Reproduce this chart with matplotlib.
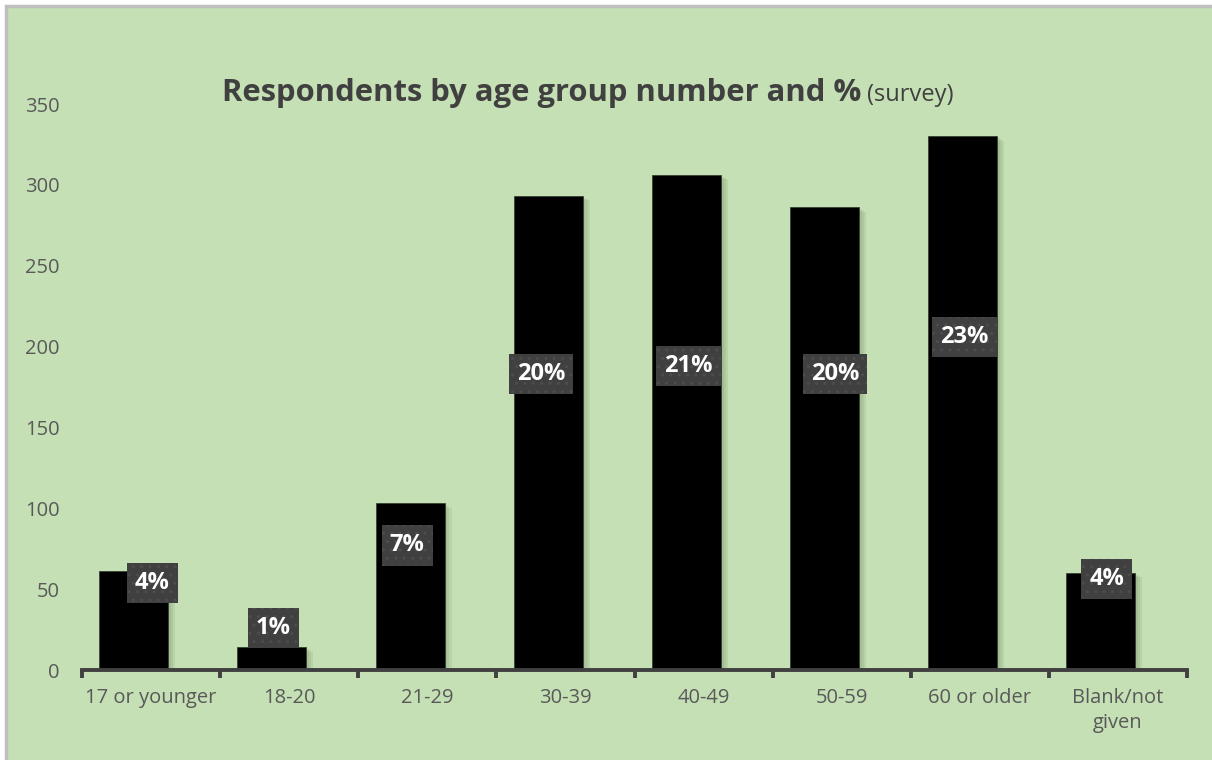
import matplotlib.pyplot as plt
import matplotlib.patheffects as pe
from matplotlib.patches import Rectangle
import numpy as np

# respondents per age group
age_groups = ["17 or younger", "18-20", "21-29", "30-39", "40-49", "50-59",
              "60 or older", "Blank/not\ngiven"]
respondents = [61, 14, 103, 293, 306, 286, 330, 60]

# where the % labels sit (category units / data units, nudged by hand)
label_dx = [0.01, -0.115, -0.145, -0.175, -0.11, -0.05, -0.11, -0.08]
label_y = [54, 26, 77, 183, 188, 183, 206, 56]

bg = "#c5e0b4"
txt = "#595959"

plt.rcParams["font.family"] = ["Open Sans", "DejaVu Sans"]

fig = plt.figure(figsize=(12.12, 7.6), dpi=100, facecolor="white")
# chart area with a thin grey frame on the top/left
fig.patches.append(Rectangle((6 / 1212, -0.1), 1.1, 1.1 - 6 / 760, transform=fig.transFigure,
                             facecolor=bg, edgecolor="#bfbfbf", linewidth=2.5, zorder=-5))

ax = fig.add_axes([82 / 1212, 90 / 760, 1105 / 1212, 566 / 760])
ax.set_zorder(2)
ax.set_facecolor("none")

x = np.arange(len(age_groups))
# soft shadow: a few faint offset copies
shadow = [pe.SimplePatchShadow(offset=(d, -d * 0.6), shadow_rgbFace="#5f7a55", alpha=0.12)
          for d in (5, 3.5, 2)] + [pe.Normal()]
bars = ax.bar(x - 0.125, respondents, width=0.5, color="black", edgecolor="#2f3a2b",
              linewidth=0.5, zorder=2)
for b in bars:
    b.set_path_effects(shadow)

ax.set_xlim(-0.5, len(age_groups) - 0.5)
ax.set_ylim(0, 350)
ax.set_yticks(range(0, 351, 50))

for s in ["top", "right", "left"]:
    ax.spines[s].set_visible(False)
ax.spines["bottom"].set_color("#404040")
ax.spines["bottom"].set_linewidth(2.8)
ax.spines["bottom"].set_zorder(3)

ax.tick_params(axis="y", length=0, pad=16, labelsize=14.5, labelcolor=txt)
ax.set_xticks(x)
ax.set_xticklabels(age_groups, fontsize=14.5, color=txt, linespacing=1.3)
ax.tick_params(axis="x", length=0, pad=13)
ax.set_xticks(np.arange(-0.5, len(age_groups)), minor=True)
ax.tick_params(axis="x", which="minor", length=6, width=2.8, color="#404040", direction="out")

total = sum(respondents)
for i, v in enumerate(respondents):
    pct = f"{round(100 * v / total)}%"
    ax.text(i + label_dx[i], label_y[i], pct, ha="center", va="center",
            fontsize=17, fontweight="bold", color="white", zorder=5,
            bbox=dict(boxstyle="square,pad=0.34", facecolor="#404040",
                      edgecolor="#4d4d4d", linewidth=0, hatch=".."))

title = fig.text(222 / 1212, 1 - 101 / 760, "Respondents by age group number and %",
                 fontsize=22.3, fontweight="bold", color="#404040", ha="left", va="baseline")
fig.canvas.draw()
bb = title.get_window_extent()
fig.text(bb.x1 / 1212 + 0.005, 1 - 101 / 760, "(survey)",
         fontsize=17, color="#404040", ha="left", va="baseline")

fig.savefig("out.png", dpi=100, facecolor=fig.get_facecolor())
